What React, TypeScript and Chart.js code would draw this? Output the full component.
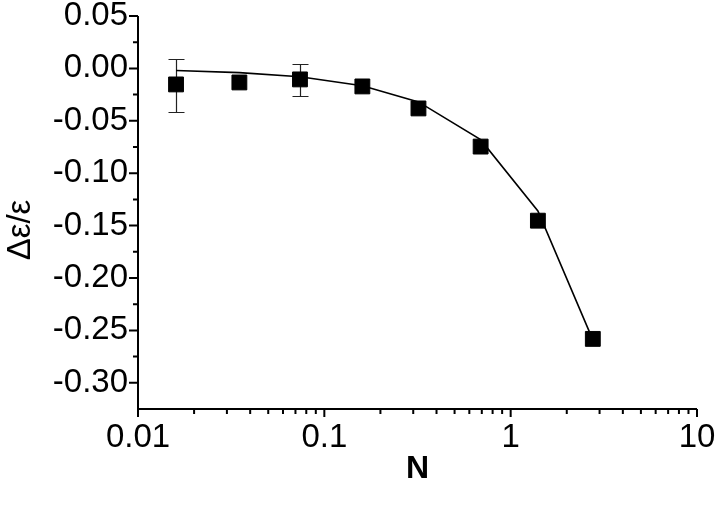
import React, { useEffect, useRef } from "react";
import { Chart, registerables } from "chart.js";

Chart.register(...registerables);

// ---- data ----
const nValues = [0.016, 0.035, 0.074, 0.16, 0.32, 0.69, 1.4, 2.76];
const deltaValues = [-0.0153, -0.0134, -0.0105, -0.0172, -0.0382, -0.0746, -0.1453, -0.2581];
const errUpper: (number | null)[] = [0.0091, null, 0.0042, null, null, null, null, null];
const errLower: (number | null)[] = [-0.0416, null, -0.0263, null, null, null, null, null];

const fitN = [0.016, 0.035, 0.074, 0.16, 0.32, 0.69, 1.4, 2.76];
const fitDelta = [-0.002, -0.004, -0.008, -0.0165, -0.032, -0.068, -0.136, -0.259];

const xTickValues = [0.01, 0.1, 1, 10];
const xTickLabels = ["0.01", "0.1", "1", "10"];
const xMinorMultipliers = [2, 3, 4, 5, 6, 7, 8, 9];
const yTickValues = [0.05, 0, -0.05, -0.1, -0.15, -0.2, -0.25, -0.3];
const yTickLabels = ["0.05", "0.00", "-0.05", "-0.10", "-0.15", "-0.20", "-0.25", "-0.30"];
const yMinorValues = [0.025, -0.025, -0.075, -0.125, -0.175, -0.225, -0.275];

const xTitle = "N";
const yTitle = "Δε/ε";

const FONT = "'Liberation Sans', Arial, Helvetica, sans-serif";

const zeroPadding = (scale: any) => {
  scale.paddingTop = 0;
  scale.paddingBottom = 0;
  scale.paddingLeft = 0;
  scale.paddingRight = 0;
};

const decorPlugin = {
  id: "decor",
  beforeDatasetsDraw(chart: any) {
    const ctx = chart.ctx;
    const xs = chart.scales.x;
    const ys = chart.scales.y;
    ctx.save();
    ctx.strokeStyle = "#222";
    ctx.lineWidth = 1.2;
    for (let i = 0; i < nValues.length; i++) {
      const up = errUpper[i];
      const lo = errLower[i];
      if (up === null || lo === null) continue;
      const px = Math.round(xs.getPixelForValue(nValues[i])) + 0.5;
      const pt = Math.round(ys.getPixelForValue(up)) + 0.5;
      const pb = Math.round(ys.getPixelForValue(lo)) + 0.5;
      ctx.beginPath();
      ctx.moveTo(px, pt);
      ctx.lineTo(px, pb);
      ctx.moveTo(px - 8, pt);
      ctx.lineTo(px + 8, pt);
      ctx.moveTo(px - 8, pb);
      ctx.lineTo(px + 8, pb);
      ctx.stroke();
    }
    ctx.restore();
  },
  afterDraw(chart: any) {
    const ctx = chart.ctx;
    const xs = chart.scales.x;
    const ys = chart.scales.y;
    const area = chart.chartArea;
    ctx.save();
    ctx.strokeStyle = "#000";
    ctx.lineWidth = 2;
    // axis lines
    ctx.beginPath();
    ctx.moveTo(area.left, area.top);
    ctx.lineTo(area.left, area.bottom);
    ctx.lineTo(area.right, area.bottom);
    ctx.stroke();
    // x ticks
    ctx.beginPath();
    xTickValues.forEach((v) => {
      const p = xs.getPixelForValue(v);
      ctx.moveTo(p, area.bottom);
      ctx.lineTo(p, area.bottom + 8);
    });
    xTickValues.slice(0, -1).forEach((d) => {
      xMinorMultipliers.forEach((m) => {
        const p = xs.getPixelForValue(d * m);
        ctx.moveTo(p, area.bottom);
        ctx.lineTo(p, area.bottom + 5);
      });
    });
    // y ticks
    yTickValues.forEach((v) => {
      const p = ys.getPixelForValue(v);
      ctx.moveTo(area.left, p);
      ctx.lineTo(area.left - 9, p);
    });
    yMinorValues.forEach((v) => {
      const p = ys.getPixelForValue(v);
      ctx.moveTo(area.left, p);
      ctx.lineTo(area.left - 5, p);
    });
    ctx.stroke();
    // y title
    ctx.fillStyle = "#000";
    ctx.font = `33px ${FONT}`;
    ctx.textAlign = "center";
    ctx.textBaseline = "middle";
    ctx.translate(21, 230);
    ctx.rotate(-Math.PI / 2);
    ctx.fillText(yTitle, 0, 0);
    ctx.restore();
  },
};

export default function App() {
  const canvasRef = useRef<HTMLCanvasElement | null>(null);

  useEffect(() => {
    if (!canvasRef.current) return;
    const chart = new Chart(canvasRef.current, {
      type: "scatter",
      data: {
        datasets: [
          {
            label: "fit",
            data: fitN.map((n, i) => ({ x: n, y: fitDelta[i] })),
            showLine: true,
            borderColor: "#000",
            borderWidth: 1.6,
            pointRadius: 0,
            fill: false,
            order: 2,
          },
          {
            label: "data",
            data: nValues.map((n, i) => ({ x: n, y: deltaValues[i] })),
            showLine: false,
            pointStyle: "rect",
            pointRadius: 10.5,
            pointBackgroundColor: "#000",
            pointBorderColor: "#000",
            pointBorderWidth: 1,
            order: 1,
          },
        ],
      },
      options: {
        responsive: false,
        animation: false,
        layout: {
          autoPadding: false,
          padding: { left: 0, right: 23, top: 16, bottom: 0 },
        } as any,
        plugins: {
          legend: { display: false },
          tooltip: { enabled: false },
        },
        scales: {
          x: {
            type: "logarithmic",
            position: "bottom",
            min: 0.01,
            max: 10,
            grid: { display: false, drawTicks: false },
            border: { display: false },
            afterBuildTicks: (scale: any) => {
              scale.ticks = xTickValues.map((v) => ({ value: v }));
            },
            afterFit: (scale: any) => {
              scale.height = 99;
              zeroPadding(scale);
            },
            ticks: {
              autoSkip: false,
              maxRotation: 0,
              minRotation: 0,
              padding: 12,
              color: "#000",
              font: { family: FONT, size: 33, lineHeight: 1 },
              callback: (value: any) => {
                const idx = xTickValues.findIndex((v) => Math.abs(v - Number(value)) < 1e-9);
                return idx >= 0 ? xTickLabels[idx] : "";
              },
            },
            title: {
              display: true,
              text: xTitle,
              color: "#000",
              font: { family: FONT, size: 32, weight: "bold", lineHeight: 1.2 },
              padding: { top: 0, bottom: 20 },
            },
          },
          y: {
            type: "linear",
            min: -0.325,
            max: 0.05,
            grid: { display: false, drawTicks: false },
            border: { display: false },
            afterBuildTicks: (scale: any) => {
              scale.ticks = yTickValues.map((v) => ({ value: v }));
            },
            afterFit: (scale: any) => {
              scale.width = 138;
              zeroPadding(scale);
            },
            ticks: {
              autoSkip: false,
              padding: 10,
              color: "#000",
              font: { family: FONT, size: 33, lineHeight: 1 },
              callback: (value: any) => {
                const idx = yTickValues.findIndex((v) => Math.abs(v - Number(value)) < 1e-9);
                return idx >= 0 ? yTickLabels[idx] : "";
              },
            },
          },
        },
      } as any,
      plugins: [decorPlugin],
    });
    return () => chart.destroy();
  }, []);

  return (
    <div style={{ position: "absolute", left: 0, top: 0, width: 720, height: 508, background: "#fff" }}>
      <canvas ref={canvasRef} width={720} height={508} style={{ display: "block" }} />
    </div>
  );
}
